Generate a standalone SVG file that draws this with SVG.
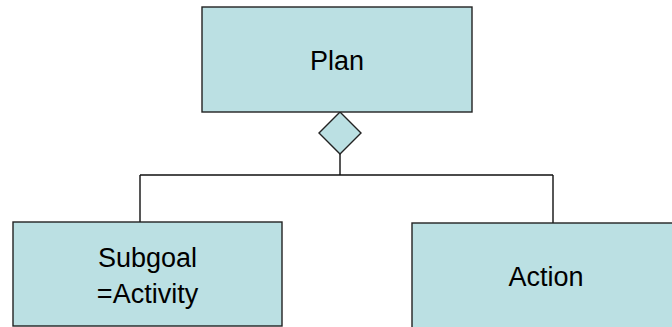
<svg xmlns="http://www.w3.org/2000/svg" width="672" height="327" viewBox="0 0 672 327">
<style>
.box{fill:#BBE0E3;stroke:#222;stroke-width:1.4}
.lbl{font-family:"Liberation Sans",Arial,sans-serif;font-size:27px;fill:#000;text-anchor:middle}
.con{fill:none;stroke:#111;stroke-width:1.4}
</style>
<rect width="672" height="327" fill="#fff"/>
<g id="connectors">
<path class="con" d="M340 154 V175 M140 175 H553 M140 175 V222 M553 175 V223"/>
<polygon class="box" points="340,112 361,133 340,154 319,133"/>
</g>
<g id="plan">
<rect class="box" x="202" y="7" width="270" height="105"/>
<text class="lbl" x="337" y="70">Plan</text>
</g>
<g id="subgoal">
<rect class="box" x="13" y="222" width="269" height="104"/>
<text class="lbl" x="147.5" y="267">Subgoal</text>
<text class="lbl" x="147.5" y="303">=Activity</text>
</g>
<g id="action">
<rect class="box" x="412" y="223" width="270" height="110"/>
<text class="lbl" x="546" y="286">Action</text>
</g>
</svg>
